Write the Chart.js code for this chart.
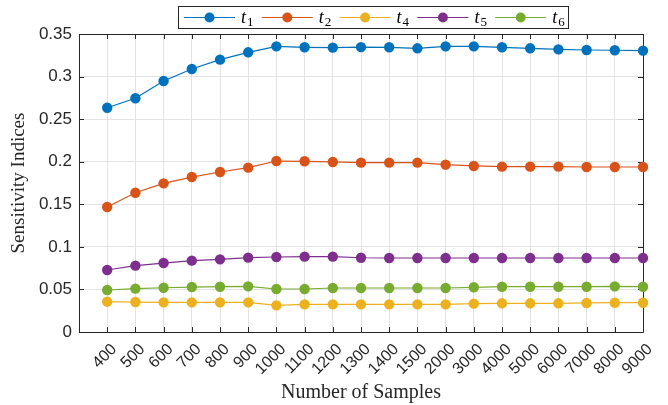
<!DOCTYPE html>
<html>
<head>
<meta charset="utf-8">
<script src="https://cdn.jsdelivr.net/npm/chart.js@4.4.1/dist/chart.umd.min.js"></script>
<style>
  html, body { margin: 0; padding: 0; background: #fff; }
  #wrap { width: 668px; height: 405px; }
</style>
</head>
<body>
<div id="wrap"><canvas id="sensChart"></canvas></div>
<script>
// Data
const categories = ['400', '500', '600', '700', '800', '900', '1000', '1100', '1200', '1300',
    '1400', '1500', '2000', '3000', '4000', '5000', '6000', '7000', '8000', '9000'];

const t1 = [0.2634, 0.2745, 0.2948, 0.3089, 0.3199, 0.3285, 0.3355, 0.3344, 0.3340, 0.3346,
    0.3344, 0.3332, 0.3355, 0.3355, 0.3344, 0.3332, 0.3320, 0.3312, 0.3309, 0.3305];
const t2 = [0.1468, 0.1636, 0.1746, 0.1820, 0.1879, 0.1930, 0.2008, 0.2005, 0.1997, 0.1989,
    0.1989, 0.1989, 0.1965, 0.1950, 0.1942, 0.1942, 0.1942, 0.1938, 0.1938, 0.1938];
const t4 = [0.0356, 0.0352, 0.0348, 0.0348, 0.0348, 0.0348, 0.0313, 0.0325, 0.0325, 0.0325,
    0.0325, 0.0325, 0.0325, 0.0333, 0.0337, 0.0337, 0.0337, 0.0341, 0.0344, 0.0344];
const t5 = [0.0728, 0.0779, 0.0810, 0.0838, 0.0853, 0.0873, 0.0881, 0.0885, 0.0885, 0.0872,
    0.0869, 0.0869, 0.0869, 0.0869, 0.0869, 0.0869, 0.0869, 0.0869, 0.0869, 0.0869];
const t6 = [0.0493, 0.0509, 0.0520, 0.0528, 0.0532, 0.0536, 0.0505, 0.0505, 0.0517, 0.0517,
    0.0517, 0.0517, 0.0517, 0.0525, 0.0532, 0.0532, 0.0532, 0.0532, 0.0536, 0.0532];

const seriesNames = ['1', '2', '4', '5', '6']; // subscripts of t
const seriesData = [t1, t2, t4, t5, t6];
const colors = ['#0072BD', '#D95319', '#EDB120', '#7E2F8E', '#77AC30'];

const sans = '"Liberation Sans", Arial, sans-serif';
const serif = '"Liberation Serif", "Times New Roman", serif';

// MATLAB style box + inward ticks
const boxPlugin = {
    id: 'box',
    beforeDatasetsDraw(chart) {
        const { ctx, chartArea: a, scales } = chart;
        ctx.save();
        ctx.strokeStyle = '#262626';
        ctx.lineWidth = 1;
        ctx.beginPath();
        ctx.rect(Math.round(a.left) + 0.5, Math.round(a.top) + 0.5,
            Math.round(a.right - a.left), Math.round(a.bottom - a.top));
        categories.forEach((c, i) => {
            const px = Math.round(scales.x.getPixelForValue(i)) + 0.5;
            ctx.moveTo(px, a.bottom); ctx.lineTo(px, a.bottom - 5);
            ctx.moveTo(px, a.top); ctx.lineTo(px, a.top + 5);
        });
        scales.y.ticks.forEach(t => {
            const py = Math.round(scales.y.getPixelForValue(t.value)) + 0.5;
            ctx.moveTo(a.left, py); ctx.lineTo(a.left + 5, py);
            ctx.moveTo(a.right, py); ctx.lineTo(a.right - 5, py);
        });
        ctx.stroke();
        ctx.restore();
    }
};

// legend with line + marker and subscripted labels
const legendPlugin = {
    id: 'mlegend',
    afterDraw(chart) {
        const ctx = chart.ctx;
        const x0 = 178.5, y0 = 6.5, w = 390, h = 22;
        ctx.save();
        ctx.fillStyle = '#fff';
        ctx.fillRect(x0, y0, w, h);
        ctx.strokeStyle = '#262626';
        ctx.lineWidth = 1;
        ctx.strokeRect(x0, y0, w, h);
        const cy = y0 + h / 2;
        chart.data.datasets.forEach((ds, i) => {
            const lx = 184 + i * 77.8;
            ctx.strokeStyle = ds.borderColor;
            ctx.lineWidth = 1;
            ctx.beginPath();
            ctx.moveTo(lx, cy); ctx.lineTo(lx + 51, cy);
            ctx.stroke();
            ctx.fillStyle = ds.backgroundColor;
            ctx.beginPath();
            ctx.arc(lx + 25.5, cy, 5, 0, Math.PI * 2);
            ctx.fill();
            ctx.fillStyle = '#000';
            ctx.textBaseline = 'alphabetic';
            ctx.font = 'italic 18px ' + serif;
            ctx.fillText('t', lx + 57, cy + 5);
            ctx.font = '13px ' + serif;
            ctx.fillText(seriesNames[i], lx + 63, cy + 8);
        });
        ctx.restore();
    }
};

new Chart(document.getElementById('sensChart'), {
    type: 'line',
    data: {
        datasets: seriesData.map((vals, i) => ({
            label: 't' + seriesNames[i],
            data: vals.map((v, k) => ({ x: k, y: v })),
            borderColor: colors[i],
            backgroundColor: colors[i],
            borderWidth: 1.2,
            pointRadius: 5.2,
            pointHoverRadius: 5.2,
            pointBorderWidth: 0,
            tension: 0,
            clip: false
        }))
    },
    options: {
        responsive: true,
        maintainAspectRatio: false,
        animation: false,
        layout: { padding: { top: 34, right: 25, left: 0, bottom: 0 } },
        plugins: {
            legend: { display: false },
            tooltip: { enabled: false }
        },
        scales: {
            x: {
                type: 'linear',
                min: -1,
                max: categories.length - 1,
                afterFit(scale) { scale.height = 73; },
                afterBuildTicks(scale) {
                    scale.ticks = categories.map((c, i) => ({ value: i }));
                },
                grid: { color: '#e3e3e3', drawTicks: false },
                border: { display: false },
                ticks: {
                    autoSkip: false,
                    maxRotation: 45,
                    minRotation: 45,
                    padding: 8,
                    labelOffset: 7,
                    color: '#262626',
                    font: { family: sans, size: 16 },
                    callback: (v) => categories[v] ?? ''
                },
                title: {
                    display: true,
                    text: 'Number of Samples',
                    color: '#262626',
                    font: { family: serif, size: 20 },
                    padding: { top: 0, bottom: 0 }
                }
            },
            y: {
                min: 0,
                max: 0.35,
                afterFit(scale) { scale.width = 79; },
                grid: { color: '#e3e3e3', drawTicks: false },
                border: { display: false },
                ticks: {
                    stepSize: 0.05,
                    padding: 7,
                    color: '#262626',
                    font: { family: sans, size: 17 },
                    callback: (v) => String(Number(v.toFixed(2)))
                },
                title: {
                    display: true,
                    text: 'Sensitivity Indices',
                    color: '#262626',
                    font: { family: serif, size: 19 },
                    padding: { top: 8, bottom: 0 }
                }
            }
        }
    },
    plugins: [boxPlugin, legendPlugin]
});
</script>
</body>
</html>
